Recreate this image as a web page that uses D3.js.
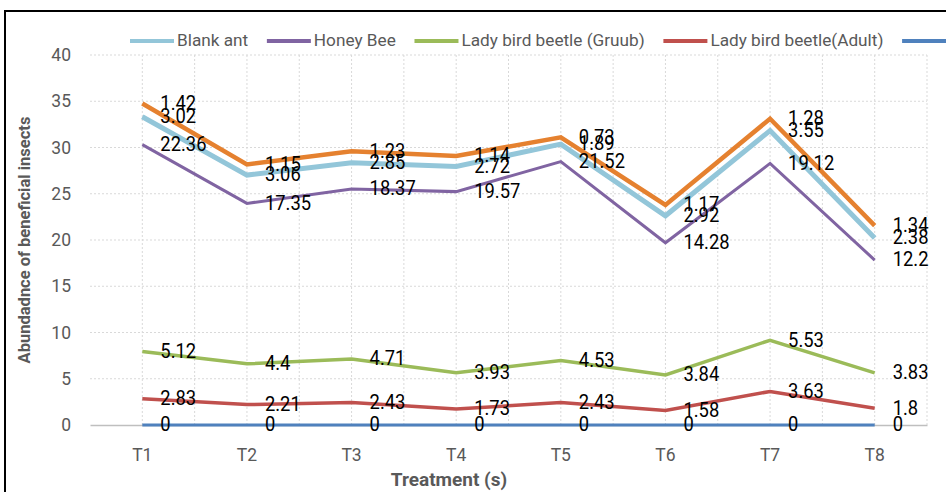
<!DOCTYPE html>
<html>
<head>
<meta charset="utf-8">
<script src="https://cdn.jsdelivr.net/npm/d3@7"></script>
<style>
  body { margin: 0; background: #fff; }
  svg { display: block; font-family: Roboto, sans-serif; }
</style>
</head>
<body>
<div id="chart"></div>
<script>
// Stacked line chart: abundance of beneficial insects per treatment.

const width = 946;
const height = 492;

const treatments = ["T1", "T2", "T3", "T4", "T5", "T6", "T7", "T8"];
const yTicks = [0, 5, 10, 15, 20, 25, 30, 35, 40];

// values per series (as printed on the chart)
const blankAnt = [3.02, 3.06, 2.85, 2.72, 1.89, 2.92, 3.55, 2.38];
const honeyBee = [22.36, 17.35, 18.37, 19.57, 21.52, 14.28, 19.12, 12.2];
const beetleGrub = [5.12, 4.4, 4.71, 3.93, 4.53, 3.84, 5.53, 3.83];
const beetleAdult = [2.83, 2.21, 2.43, 1.73, 2.43, 1.58, 3.63, 1.8];
const series5 = [0, 0, 0, 0, 0, 0, 0, 0];
const series6 = [1.42, 1.15, 1.23, 1.14, 0.73, 1.17, 1.28, 1.34];

// legend order (series 5 and 6 run off the right edge)
const legendNames = ["Blank ant", "Honey Bee", "Lady bird beetle (Gruub)",
  "Lady bird beetle(Adult)", "Series5", "Series6"];
// stacking order, bottom to top
const stackNames = ["Series5", "Lady bird beetle(Adult)", "Lady bird beetle (Gruub)",
  "Honey Bee", "Blank ant", "Series6"];

const valuesByName = {
  "Blank ant": blankAnt,
  "Honey Bee": honeyBee,
  "Lady bird beetle (Gruub)": beetleGrub,
  "Lady bird beetle(Adult)": beetleAdult,
  "Series5": series5,
  "Series6": series6
};
const colors = {
  "Blank ant": "#93c6d9",
  "Honey Bee": "#8064a2",
  "Lady bird beetle (Gruub)": "#9bbb59",
  "Lady bird beetle(Adult)": "#c0504d",
  "Series5": "#4f81bd",
  "Series6": "#e5812f"
};
const widths = {
  "Blank ant": 5,
  "Honey Bee": 3,
  "Lady bird beetle (Gruub)": 3.5,
  "Lady bird beetle(Adult)": 3.5,
  "Series5": 3,
  "Series6": 4.5
};

const rows = treatments.map((t, i) => {
  const r = { treatment: t };
  stackNames.forEach(n => r[n] = valuesByName[n][i]);
  return r;
});

const stacked = d3.stack().keys(stackNames)(rows);

const plotLeft = 90, plotRight = 927, plotTop = 55, plotBottom = 425;

const x = d3.scaleBand().domain(treatments).range([plotLeft, plotRight]);
const y = d3.scaleLinear().domain([0, 40]).range([plotBottom, plotTop]);
const cx = t => x(t) + x.bandwidth() / 2;

const svg = d3.select("#chart").append("svg")
  .attr("width", width)
  .attr("height", height);

svg.append("rect").attr("width", width).attr("height", height).attr("fill", "#fff");

// outer chart frame (cut by the picture edges)
svg.append("rect")
  .attr("x", 5).attr("y", 11)
  .attr("width", width + 20).attr("height", height + 20)
  .attr("fill", "none").attr("stroke", "#000").attr("stroke-width", 2);

// gridlines
const grid = svg.append("g").attr("stroke", "#d9d9d9").attr("stroke-dasharray", "2,2");
yTicks.filter(d => d > 0).forEach(d => {
  grid.append("line")
    .attr("x1", plotLeft).attr("x2", plotRight)
    .attr("y1", y(d)).attr("y2", y(d));
});
const vx = [];
treatments.forEach(t => { vx.push(cx(t)); vx.push(x(t) + x.bandwidth()); });
vx.forEach(v => {
  grid.append("line")
    .attr("x1", v).attr("x2", v)
    .attr("y1", plotTop).attr("y2", plotBottom);
});

// y axis (labels only)
const yAxis = svg.append("g")
  .attr("transform", `translate(${plotLeft},0)`)
  .call(d3.axisLeft(y).tickValues(yTicks).tickSize(0).tickPadding(19));
yAxis.select(".domain").remove();
yAxis.selectAll("text").attr("fill", "#595959").attr("font-size", 17.5)
  .attr("font-family", "Roboto, sans-serif");

// x axis
const xAxis = svg.append("g")
  .attr("transform", `translate(0,${plotBottom})`)
  .call(d3.axisBottom(x).tickSize(0).tickPadding(24));
xAxis.select(".domain").attr("stroke", "#bfbfbf").attr("stroke-width", 1.5);
xAxis.selectAll("text").attr("fill", "#595959").attr("font-size", 17.5)
  .attr("font-family", "Roboto, sans-serif");

// lines
const line = d3.line()
  .x(d => cx(d.data.treatment))
  .y(d => y(d[1]));

svg.append("g").selectAll("path")
  .data(stacked)
  .join("path")
  .attr("d", line)
  .attr("fill", "none")
  .attr("stroke", d => colors[d.key])
  .attr("stroke-width", d => widths[d.key])
  .attr("stroke-linejoin", "miter");

// data labels (a bit narrow and tall, like the original)
const labels = svg.append("g")
  .attr("font-size", 20)
  .attr("fill", "#000");
stacked.forEach(s => {
  s.forEach(d => {
    labels.append("text")
      .attr("transform", `translate(${cx(d.data.treatment) + 18},${y(d[1]) + 1}) scale(0.92,1)`)
      .attr("dominant-baseline", "middle")
      .text(d.data[s.key]);
  });
});

// legend
const legend = svg.append("g").attr("transform", "translate(130,41)");
let lx = 0;
legendNames.forEach(n => {
  legend.append("line")
    .attr("x1", lx).attr("x2", lx + 44)
    .attr("stroke", colors[n]).attr("stroke-width", 4);
  const t = legend.append("text")
    .attr("x", lx + 47)
    .attr("dominant-baseline", "middle")
    .attr("font-size", 17.2)
    .attr("fill", "#595959")
    .text(n);
  lx += 47 + t.node().getComputedTextLength() + 18.7;
});

// axis titles
svg.append("text")
  .attr("transform", `translate(26,${(plotTop + plotBottom) / 2}) rotate(-90)`)
  .attr("text-anchor", "middle")
  .attr("dominant-baseline", "middle")
  .attr("font-size", 16.5)
  .attr("font-weight", "bold")
  .attr("fill", "#595959")
  .text("Abundadnce of beneficial insects");

svg.append("text")
  .attr("x", 449)
  .attr("y", 481)
  .attr("text-anchor", "middle")
  .attr("dominant-baseline", "middle")
  .attr("font-size", 19)
  .attr("font-weight", "bold")
  .attr("fill", "#595959")
  .text("Treatment (s)");
</script>
</body>
</html>
